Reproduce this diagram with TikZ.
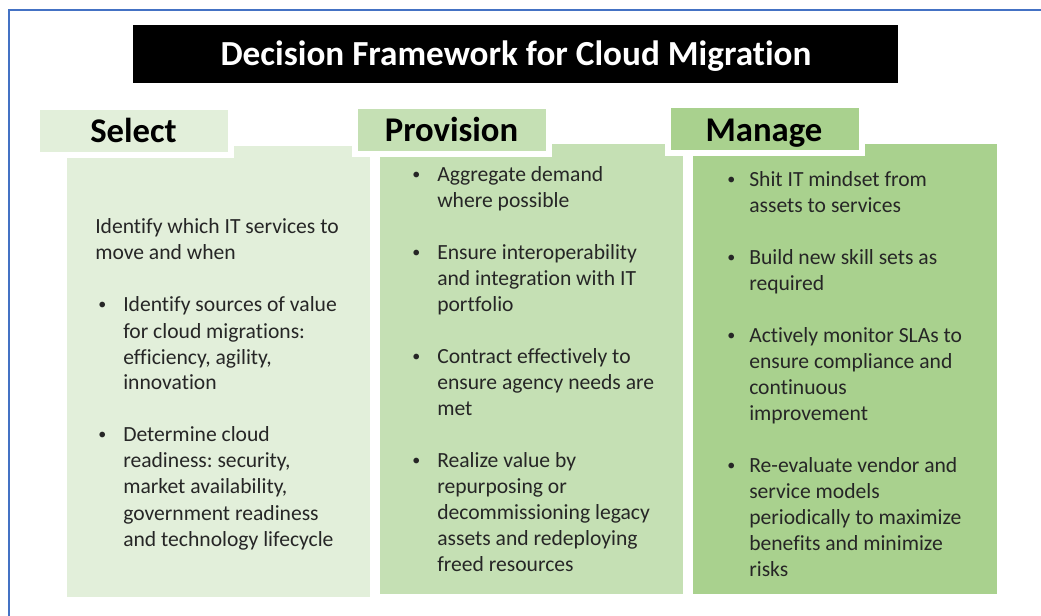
\documentclass[tikz,border=0pt]{standalone}
\usepackage{fontspec}
\setmainfont{Carlito}[Ligatures=NoCommon]
\usetikzlibrary{positioning}

\definecolor{selectgreen}{HTML}{E2EFDA}
\definecolor{provgreen}{HTML}{C5E0B4}
\definecolor{managegreen}{HTML}{A9D18E}
\definecolor{frameblue}{HTML}{4472C4}
\definecolor{textgray}{HTML}{262626}

\frenchspacing
\newcommand{\bul}[1][18.75pt]{\makebox[#1][l]{\raisebox{1.6pt}{\fontsize{12}{14}\selectfont\textbullet}}}

\begin{document}
\begin{tikzpicture}[x=0.75pt, y=-0.75pt,
    panel/.style={inner sep=0pt, minimum width=227.25pt, minimum height=337.5pt},
    tab/.style={draw=white, line width=4.5pt, inner sep=0pt,
        minimum width=145.5pt, minimum height=36pt},
    tablabel/.style={anchor=base, inner sep=0pt, text=black,
        font=\bfseries\fontsize{26}{30}\selectfont},
    coltext/.style={anchor=base west, inner sep=0pt, text=textgray,
        font=\fontsize{16.2}{19.5}\selectfont}]
        \useasboundingbox (0,0) rectangle (1041,616);

        % Frame
        \draw[frameblue, line width=1.5pt] (9,616) -- (9,10) -- (1041,10);

        % Title
        \node[fill=black, inner sep=0pt, minimum width=573.75pt,
        minimum height=43.5pt] (title) at (515.5,54) {};
        \node[anchor=base, inner sep=0pt, text=white,
        font=\bfseries\fontsize{26.4}{30}\selectfont] (titletext)
        at (516,66) {Decision Framework for Cloud Migration};

        % Panels
        \node[panel, fill=selectgreen, minimum height=338.25pt]
        (selectpanel) at (218.5,371.5) {};
        \node[panel, fill=provgreen] (provpanel) at (531.5,369) {};
        \node[panel, fill=managegreen, minimum width=228pt]
        (managepanel) at (845,369) {};

        % Tabs
        \node[tab, fill=selectgreen] (selecttab) at (134,131) {};
        \node[tab, fill=provgreen] (provtab) at (451.5,130) {};
        \node[tab, fill=managegreen] (managetab) at (765,129.5) {};
        \node[tablabel] (selectlabel) at (133.5,143) {Select};
        \node[tablabel] (provlabel) at (451.5,142) {Provision};
        \node[tablabel] (managelabel) at (764,142) {Manage};

        % Select text
        \node[coltext] (selecttext) at (95,234) {%
        \begin{tabular}[t]{@{}l@{}l@{}}
        \multicolumn{2}{@{}l@{}}{Identify which IT services to}\\
        \multicolumn{2}{@{}l@{}}{move and when}\\[19.5pt]
        \hspace*{2.25pt}\bul & Identify sources of value\\
         & for cloud migrations:\\
         & efficiency, agility,\\
         & innovation\\[19.5pt]
        \hspace*{2.25pt}\bul & Determine cloud\\
         & readiness: security,\\
         & market availability,\\
         & government readiness\\
         & and technology lifecycle
        \end{tabular}};

        % Provision text
        \node[coltext] (provtext) at (412,182) {%
        \begin{tabular}[t]{@{}l@{}l@{}}
        \bul & Aggregate demand\\
         & where possible\\[19.5pt]
        \bul & Ensure interoperability\\
         & and integration with IT\\
         & portfolio\\[19.5pt]
        \bul & Contract effectively to\\
         & ensure agency needs are\\
         & met\\[19.5pt]
        \bul & Realize value by\\
         & repurposing or\\
         & decommissioning legacy\\
         & assets and redeploying\\
         & freed resources
        \end{tabular}};

        % Manage text
        \node[coltext] (managetext) at (727,187) {%
        \begin{tabular}[t]{@{}l@{}l@{}}
        \bul[16.5pt] & Shit IT mindset from\\
         & assets to services\\[19.5pt]
        \bul[16.5pt] & Build new skill sets as\\
         & required\\[19.5pt]
        \bul[16.5pt] & Actively monitor SLAs to\\
         & ensure compliance and\\
         & continuous\\
         & improvement\\[19.5pt]
        \bul[16.5pt] & Re-evaluate vendor and\\
         & service models\\
         & periodically to maximize\\
         & benefits and minimize\\
         & risks
        \end{tabular}};
    \end{tikzpicture}
\end{document}
